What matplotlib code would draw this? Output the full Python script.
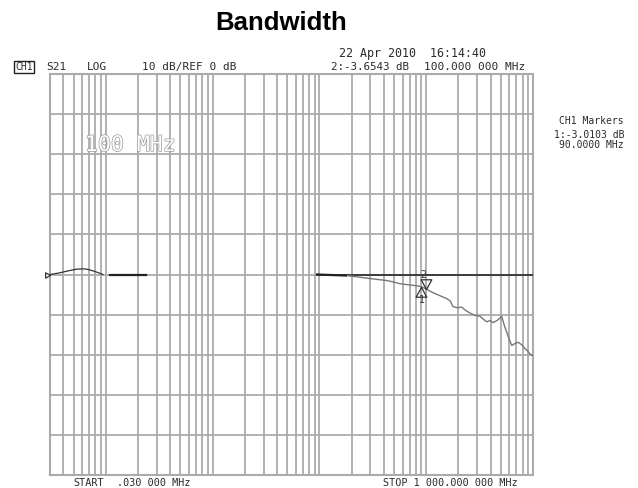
import matplotlib
matplotlib.use('Agg')
import matplotlib.pyplot as plt
import numpy as np
from matplotlib.ticker import LogLocator, MultipleLocator, NullFormatter
import matplotlib.patheffects as pe

# ---------------- data ----------------
x_start_mhz, x_stop_mhz = 0.03, 1000.0
ref_db, db_per_div = 0.0, 10.0

bump_freq_mhz = [0.03, 0.036, 0.042, 0.047, 0.054, 0.064, 0.072, 0.08, 0.087, 0.094]
bump_db = [0.0, 0.35, 0.75, 1.05, 1.35, 1.4, 1.1, 0.7, 0.35, 0.0]

ref_seg1_mhz = [0.109, 0.238]
ref_seg2_mhz = [9.5, 1000.0]

resp_freq_mhz = [9.5, 12.0, 17.7, 22.0, 27.6, 34.0, 42.6, 50.0, 56.8, 70.0, 83.5, 90.0,
                 100.0, 115.0, 135.0, 155.0, 168.0, 178.0, 195.0, 214.0, 235.0, 257.0,
                 285.0, 318.0, 345.0, 368.0, 395.0, 425.0, 470.0, 509.0, 540.0, 567.0,
                 600.0, 632.0, 680.0, 729.0, 790.0, 843.0, 900.0, 935.0, 1000.0]
resp_db = [0.0, -0.1, -0.25, -0.55, -0.9, -1.2, -1.5, -1.9, -2.3, -2.6, -2.85, -3.01,
           -3.65, -4.5, -5.3, -6.0, -6.6, -8.0, -8.3, -8.1, -9.0, -9.6,
           -10.2, -10.4, -11.2, -11.8, -11.5, -12.0, -11.3, -10.4, -12.8, -14.4,
           -16.2, -17.7, -17.2, -16.9, -17.6, -18.5, -19.2, -19.8, -20.3]

marker_freq_mhz = [90.0, 100.0]
marker_db = [-3.0103, -3.6543]
marker_labels = ['1', '2']

# ---------------- figure ----------------
W, H = 638, 488
fig = plt.figure(figsize=(W / 100, H / 100), dpi=100)
fig.patch.set_facecolor('white')

def fx(x):
    return x / W

def fy(y):
    return 1 - y / H

L, R, T, B = 50, 533, 74, 475
ax = fig.add_axes([fx(L), fy(B), (R - L) / W, (B - T) / H])
ax.set_xscale('log')
ax.set_xlim(x_start_mhz, x_stop_mhz)
ax.set_ylim(ref_db - 5 * db_per_div, ref_db + 5 * db_per_div)
ax.xaxis.set_major_locator(LogLocator(base=10, numticks=20))
ax.xaxis.set_minor_locator(LogLocator(base=10, subs=np.arange(2, 10), numticks=100))
ax.xaxis.set_minor_formatter(NullFormatter())
ax.yaxis.set_major_locator(MultipleLocator(db_per_div))
grid_c = '#ababab'
ax.grid(which='both', axis='x', color=grid_c, lw=1.3)
ax.grid(which='major', axis='y', color=grid_c, lw=1.3)
ax.tick_params(which='both', length=0, labelbottom=False, labelleft=False)
for s in ax.spines.values():
    s.set_color(grid_c)
    s.set_linewidth(1.5)

# traces
ax.plot(bump_freq_mhz, bump_db, color='#333333', lw=0.9, zorder=3)
ax.plot(ref_seg1_mhz, [ref_db, ref_db], color='#222222', lw=1.6, zorder=3)
ax.plot(ref_seg2_mhz, [ref_db, ref_db], color='#333333', lw=1.3, zorder=3)
ax.plot(resp_freq_mhz[:3], resp_db[:3], color='#222222', lw=1.6, zorder=4)
ax.plot(resp_freq_mhz, resp_db, color='#777777', lw=1.0, zorder=3)

# markers
down_tri = [(0, 0), (-0.55, 1), (0.55, 1), (0, 0)]
up_tri = [(0, 0), (-0.55, -1), (0.55, -1), (0, 0)]
ax.plot([marker_freq_mhz[0]], [marker_db[0]], marker=up_tri, ms=14, mfc='none',
        mec='#333333', mew=0.9, zorder=5)
ax.plot([marker_freq_mhz[1]], [marker_db[1]], marker=down_tri, ms=14, mfc='none',
        mec='#333333', mew=0.9, zorder=5)
ax.annotate(marker_labels[0], (marker_freq_mhz[0], marker_db[0]), xytext=(0, -10),
            textcoords='offset points', ha='center', va='center', fontsize=7,
            family='DejaVu Sans Mono', color='#333333')
ax.annotate(marker_labels[1], (marker_freq_mhz[1], marker_db[1]), xytext=(-2, 10),
            textcoords='offset points', ha='center', va='center', fontsize=7,
            family='DejaVu Sans Mono', color='#333333')

# start (reference) marker
ref_tri = [(0, 0), (-1, 0.55), (-1, -0.55), (0, 0)]
ax.plot([x_start_mhz], [ref_db], marker=ref_tri, ms=7, mfc='none', mec='#333333',
        mew=0.9, clip_on=False, zorder=6)

# ---------------- texts ----------------
mono = 'DejaVu Sans Mono'
tc = '#2a2a2a'
fig.text(fx(281), fy(23), 'Bandwidth', ha='center', va='center', fontsize=18.5,
         fontweight='bold', family='Liberation Sans', color='black')
fig.text(fx(339), fy(53), '22 Apr 2010  16:14:40', ha='left', va='center',
         fontsize=8.4, family=mono, color=tc)

fig.text(fx(15), fy(67), 'CH1', ha='left', va='center', fontsize=7, family=mono,
         color=tc, bbox=dict(boxstyle='square,pad=0.12', fc='white', ec='#222222', lw=1.0))
fig.text(fx(46), fy(67), 'S21', ha='left', va='center', fontsize=8, family=mono, color=tc)
fig.text(fx(87), fy(67), 'LOG', ha='left', va='center', fontsize=8, family=mono, color=tc)
fig.text(fx(142), fy(67), '10 dB/REF 0 dB', ha='left', va='center', fontsize=8,
         family=mono, color=tc)
fig.text(fx(331), fy(67), '2:-3.6543 dB', ha='left', va='center', fontsize=7.8,
         family=mono, color=tc)
fig.text(fx(424), fy(67), '100.000 000 MHz', ha='left', va='center', fontsize=8,
         family=mono, color=tc)

fig.text(fx(624), fy(121), 'CH1 Markers', ha='right', va='center', fontsize=7,
         family=mono, color=tc)
fig.text(fx(624), fy(135), '1:-3.0103 dB', ha='right', va='center', fontsize=7,
         family=mono, color=tc)
fig.text(fx(624), fy(145), '90.0000 MHz', ha='right', va='center', fontsize=7,
         family=mono, color=tc)

fig.text(fx(73), fy(483), 'START', ha='left', va='center', fontsize=7.3, family=mono, color=tc)
fig.text(fx(117), fy(483), '.030 000 MHz', ha='left', va='center', fontsize=7.3,
         family=mono, color=tc)
fig.text(fx(383), fy(483), 'STOP 1 000.000 000 MHz', ha='left', va='center', fontsize=7.3,
         family=mono, color=tc)

fig.text(fx(85), fy(145), '100 MHz', ha='left', va='center', fontsize=15.5, family=mono,
         color='white', path_effects=[pe.withStroke(linewidth=1.0, foreground='#9a9a9a')])

fig.savefig('out.png', dpi=100, facecolor='white')
